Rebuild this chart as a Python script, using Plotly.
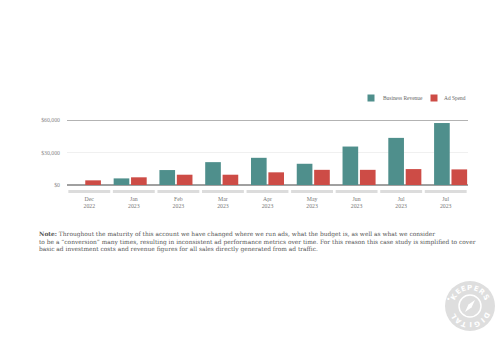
import math
import plotly.graph_objects as go

months = ["Dec", "Jan", "Feb", "Mar", "Apr", "May", "Jun", "Jul", "Jul"]
years = ["2022", "2023", "2023", "2023", "2023", "2023", "2023", "2023", "2023"]
revenue = [0, 6100, 13800, 21100, 25100, 19600, 35500, 43500, 57200]
ad_spend = [4300, 7100, 9500, 9500, 11700, 14000, 14000, 14700, 14400]
series_names = ["Business Revenue", "Ad Spend"]
y_ticks = [0, 30000, 60000]
y_tick_labels = ["$0", "$30,000", "$60,000"]

TEAL = "#4f8f8c"
RED = "#cd4c46"
SERIF = "DejaVu Serif, serif"
SERIF_N = "Liberation Serif, serif"

W, H = 500, 350
L, R, T, B = 67, 32, 120, 165
PW, PH = W - L - R, H - T - B

def px(xp):
    return (xp - L) / PW

def py(yp):
    return (H - B - yp) / PH

idx = list(range(len(months)))
ticktext = [f"{m}<br>{y}" for m, y in zip(months, years)]

fig = go.Figure()
fig.add_trace(go.Bar(x=idx, y=revenue, name=series_names[0], marker_color=TEAL,
                     marker_line_width=0, showlegend=False))
fig.add_trace(go.Bar(x=idx, y=ad_spend, name=series_names[1], marker_color=RED,
                     marker_line_width=0, showlegend=False))
fig.add_trace(go.Scatter(x=idx, y=[0] * len(idx), xaxis="x2", mode="markers",
                         marker=dict(opacity=0), showlegend=False, hoverinfo="skip"))

shapes = []
annotations = []
for i in idx:
    shapes.append(dict(type="rect", xref="x2", yref="paper", x0=i - 0.47, x1=i + 0.47,
                       y0=py(193), y1=py(190), fillcolor="#dcdcdc", line_width=0, layer="below"))
shapes.append(dict(type="line", xref="paper", yref="y", x0=0, x1=1, y0=y_ticks[-1], y1=y_ticks[-1],
                   line=dict(color="#9a9a9a", width=1.5)))

# custom legend: small squares + labels
for (sx, tx), name, col in zip(((371, 381), (434, 442)), series_names, (TEAL, RED)):
    shapes.append(dict(type="rect", xref="paper", yref="paper",
                       x0=px(sx - 3.5), x1=px(sx + 3.5), y0=py(101.5), y1=py(94.5),
                       fillcolor=col, line_width=0))
    annotations.append(dict(text=name, xref="paper", yref="paper", x=px(tx), y=py(98),
                            xanchor="left", yanchor="middle", showarrow=False,
                            font=dict(family=SERIF_N, size=5.4, color="#666")))

# watermark logo
cx, cy, rad = 470, 306, 25
shapes.append(dict(type="circle", xref="paper", yref="paper",
                   x0=px(cx - rad), x1=px(cx + rad), y0=py(cy + rad), y1=py(cy - rad),
                   fillcolor="#dedede", line_width=0, layer="below"))
ri = 11
shapes.append(dict(type="circle", xref="paper", yref="paper",
                   x0=px(cx - ri), x1=px(cx + ri), y0=py(cy + ri), y1=py(cy - ri),
                   fillcolor="rgba(0,0,0,0)", line=dict(color="white", width=1.5)))
shapes.append(dict(type="path", xref="paper", yref="paper",
                   path=(f"M {px(cx+5)} {py(cy-6)} L {px(cx+1.5)} {py(cy+1.5)} "
                         f"L {px(cx-5)} {py(cy+6)} L {px(cx-1.5)} {py(cy-1.5)} Z"),
                   fillcolor="white", line_width=0))

note = ("<b>Note:</b> Throughout the maturity of this account we have changed where we run ads, what the budget is, as well as what we consider<br>"
        "to be a \u201cconversion\u201d many times, resulting in inconsistent ad performance metrics over time. For this reason this case study is simplified to cover<br>"
        "basic ad investment costs and revenue figures for all sales directly generated from ad traffic.")
annotations.append(dict(text=note, xref="paper", yref="paper", x=px(37), y=py(227.5),
                        xanchor="left", yanchor="top", align="left", showarrow=False,
                        font=dict(family=SERIF, size=5.9, color="#555")))

rl = 18.5
def ring(word, start, step):
    for k, ch in enumerate(word):
        th = start + k * step
        rr = math.radians(th)
        x = cx + rl * math.sin(rr)
        y = cy - rl * math.cos(rr)
        annotations.append(dict(text=f"<b>{ch}</b>", xref="paper", yref="paper",
                                x=px(x), y=py(y), showarrow=False, textangle=th,
                                xanchor="center", yanchor="middle",
                                font=dict(family="DejaVu Sans", size=7, color="white")))
ring("KEEPERS", -60, 20)
ring("DIGITAL", 120, 20)
for th in (90, 270):
    rr = math.radians(th)
    annotations.append(dict(text="<b>\u2022</b>", xref="paper", yref="paper",
                            x=px(cx + rl * math.sin(rr)), y=py(cy - rl * math.cos(rr)),
                            showarrow=False, font=dict(size=7, color="white")))

fig.update_layout(
    width=W, height=H,
    margin=dict(l=L, r=R, t=T, b=B),
    paper_bgcolor="white", plot_bgcolor="white",
    barmode="group", bargap=0.24, bargroupgap=0.1,
    showlegend=False,
    xaxis=dict(range=[-0.38, len(idx) - 1 + 0.38], showticklabels=False, showgrid=False,
               zeroline=False, showline=False, ticks=""),
    xaxis2=dict(overlaying="x", anchor="y", side="bottom", range=[-0.5, len(idx) - 0.5],
                tickmode="array", tickvals=idx, ticktext=ticktext, showgrid=False,
                zeroline=False, showline=False, ticks="", ticklabelstandoff=9,
                tickfont=dict(family=SERIF_N, size=5.8, color="#777")),
    yaxis=dict(range=[0, y_ticks[-1]], tickmode="array", tickvals=y_ticks, ticktext=y_tick_labels,
               showgrid=True, gridcolor="#f0f0f0", gridwidth=1,
               zeroline=True, zerolinecolor="#a0a0a0", zerolinewidth=1.5,
               showline=False, ticks="", ticklabelstandoff=6,
               tickfont=dict(family=SERIF_N, size=5.8, color="#888")),
    shapes=shapes, annotations=annotations,
)

fig.write_html("out.html")
